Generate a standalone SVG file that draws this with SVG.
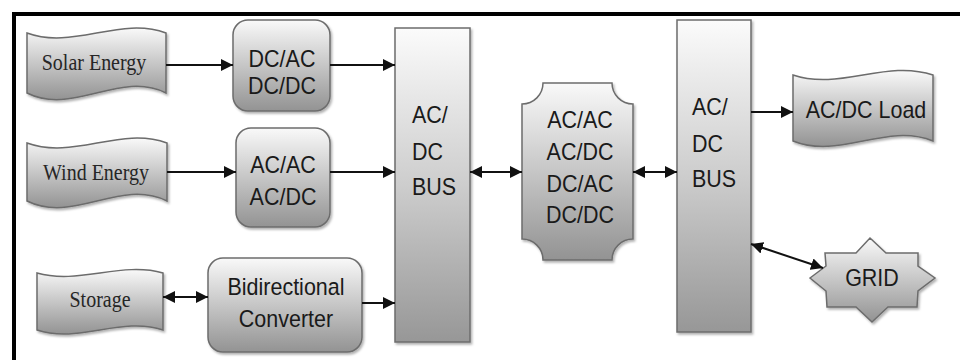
<svg xmlns="http://www.w3.org/2000/svg" width="960" height="360" viewBox="0 0 960 360">
<defs>
<linearGradient id="g" x1="0" y1="0" x2="0" y2="1">
<stop offset="0" stop-color="#f9f9f9"/>
<stop offset="1" stop-color="#939393"/>
</linearGradient>
<linearGradient id="gb" x1="0" y1="0" x2="0" y2="1">
<stop offset="0" stop-color="#fbfbfb"/>
<stop offset="0.5" stop-color="#cdcdcd"/>
<stop offset="1" stop-color="#979797"/>
</linearGradient>
<filter id="sh" x="-10%" y="-10%" width="130%" height="130%">
<feDropShadow dx="1.5" dy="2" stdDeviation="1.2" flood-color="#000" flood-opacity="0.3"/>
</filter>
<marker id="ah" viewBox="0 0 12 12" refX="12" refY="6" markerWidth="12" markerHeight="12" markerUnits="userSpaceOnUse" orient="auto-start-reverse">
<path d="M0,0 L12,6 L0,12 Z" fill="#111"/>
</marker>
</defs>
<style>
.shp{fill:url(#g);stroke:#6c6c6c;stroke-width:1.5;filter:url(#sh)}
.bus{fill:url(#gb);stroke:#6c6c6c;stroke-width:1.5;filter:url(#sh)}
.sans{font-family:"Liberation Sans",Arial,sans-serif;font-size:21.5px;fill:#1a1a1a}
.serif{font-family:"Liberation Serif","Times New Roman",serif;font-size:20px;fill:#262626}
.c{text-anchor:middle}
.ln{stroke:#111;stroke-width:2;fill:none}
</style>
<rect width="960" height="360" fill="#fff"/>
<path d="M14,360 V14 H960" fill="none" stroke="#000" stroke-width="4"/>

<g id="solar">
<path class="shp" d="M27,33 C73,50 120,16 166,33 L166,93 C120,70 73,116 27,93 Z"/>
<text class="serif c" transform="translate(94 70) scale(1 1.2)">Solar Energy</text>
</g>
<g id="wind">
<path class="shp" d="M27,143 C74,160 120,126 167,143 L167,201 C120,178 74,224 27,201 Z"/>
<text class="serif c" transform="translate(96 180) scale(1 1.2)">Wind Energy</text>
</g>
<g id="storage">
<path class="shp" d="M37,273 C79,285 121,261 163,273 L163,330 C121,316 79,344 37,330 Z"/>
<text class="serif c" transform="translate(100 307) scale(1 1.2)">Storage</text>
</g>
<g id="conv1">
<rect class="shp" x="233" y="20" width="97" height="91" rx="15"/>
<text class="sans c" transform="translate(282 67) scale(1 1.12)">DC/AC</text>
<text class="sans c" transform="translate(282 94) scale(1 1.12)">DC/DC</text>
</g>
<g id="conv2">
<rect class="shp" x="236" y="128" width="94" height="99" rx="15"/>
<text class="sans c" transform="translate(283 173) scale(1 1.12)">AC/AC</text>
<text class="sans c" transform="translate(283 205) scale(1 1.12)">AC/DC</text>
</g>
<g id="bidir">
<rect class="shp" x="208" y="258" width="154" height="94" rx="15"/>
<text class="sans c" transform="translate(286 295) scale(1 1.12)">Bidirectional</text>
<text class="sans c" transform="translate(286 327) scale(1 1.12)">Converter</text>
</g>
<g id="bus1">
<rect class="bus" x="395" y="28" width="75" height="314"/>
<text class="sans" transform="translate(412 123) scale(1 1.12)">AC/</text>
<text class="sans" transform="translate(412 160) scale(1 1.12)">DC</text>
<text class="sans" transform="translate(412 195) scale(1 1.12)">BUS</text>
</g>
<g id="conv3">
<path class="shp" d="M543,83 H612 A21,21 0 0 0 633,104 V239 A21,21 0 0 0 612,260 H543 A21,21 0 0 0 522,239 V104 A21,21 0 0 0 543,83 Z"/>
<text class="sans c" transform="translate(580 128) scale(1 1.12)">AC/AC</text>
<text class="sans c" transform="translate(580 160) scale(1 1.12)">AC/DC</text>
<text class="sans c" transform="translate(580 192) scale(1 1.12)">DC/AC</text>
<text class="sans c" transform="translate(580 223) scale(1 1.12)">DC/DC</text>
</g>
<g id="bus2">
<rect class="bus" x="677" y="20" width="74" height="312"/>
<text class="sans" transform="translate(692 115) scale(1 1.12)">AC/</text>
<text class="sans" transform="translate(692 152) scale(1 1.12)">DC</text>
<text class="sans" transform="translate(692 187) scale(1 1.12)">BUS</text>
</g>
<g id="load">
<path class="shp" d="M793,75 C840,91 886,59 933,75 L933,141 C886,122 840,160 793,141 Z"/>
<text class="sans c" transform="translate(866 118) scale(1 1.12)">AC/DC Load</text>
</g>
<g id="grid">
<polygon class="shp" points="810,278 826,266 825,253 856,253 870,238 886,253 918,253 918,266 935,278 918,291 917,307 888,307 872,322 856,307 827,307 826,291"/>
<text class="sans c" transform="translate(872 286) scale(1 1.12)">GRID</text>
</g>

<g id="connectors">
<line class="ln" x1="166" y1="65" x2="233" y2="65" marker-end="url(#ah)"/>
<line class="ln" x1="330" y1="65" x2="395" y2="65" marker-end="url(#ah)"/>
<line class="ln" x1="167" y1="172" x2="236" y2="172" marker-end="url(#ah)"/>
<line class="ln" x1="330" y1="172" x2="395" y2="172" marker-end="url(#ah)"/>
<line class="ln" x1="163" y1="297" x2="208" y2="297" marker-start="url(#ah)" marker-end="url(#ah)"/>
<line class="ln" x1="362" y1="303" x2="395" y2="303" marker-end="url(#ah)"/>
<line class="ln" x1="470" y1="172" x2="522" y2="172" marker-start="url(#ah)" marker-end="url(#ah)"/>
<line class="ln" x1="633" y1="172" x2="677" y2="172" marker-start="url(#ah)" marker-end="url(#ah)"/>
<line class="ln" x1="751" y1="112" x2="793" y2="112" marker-end="url(#ah)"/>
<line class="ln" x1="751" y1="244" x2="823" y2="268" marker-start="url(#ah)" marker-end="url(#ah)"/>
</g>
</svg>
